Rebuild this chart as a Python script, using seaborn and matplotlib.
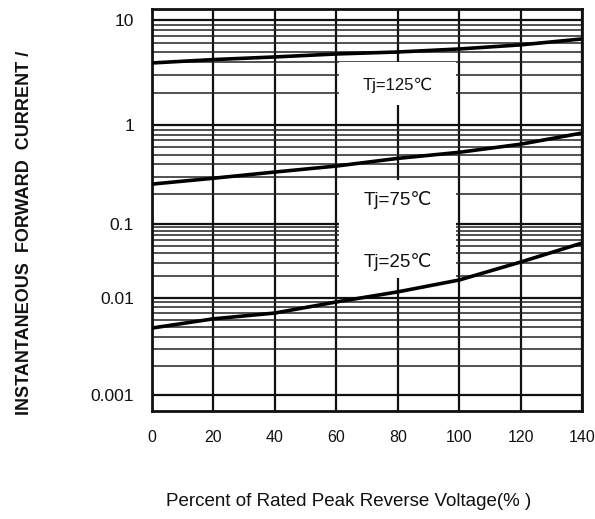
import numpy as np
import pandas as pd
import matplotlib
matplotlib.use("Agg")
import matplotlib.pyplot as plt
from matplotlib.patches import Rectangle
import seaborn as sns

# ---- data ----
voltage_pct = [0, 20, 40, 60, 80, 100, 120, 140]
i_125 = [3.9, 4.2, 4.45, 4.75, 4.96, 5.3, 5.8, 6.6]
i_75 = [0.253, 0.29, 0.335, 0.385, 0.46, 0.53, 0.64, 0.83]
i_25 = [0.0049, 0.0061, 0.0070, 0.0091, 0.0121, 0.0175, 0.0306, 0.0553]
series_labels = ["Tj=125℃", "Tj=75℃", "Tj=25℃"]
x_ticks = [0, 20, 40, 60, 80, 100, 120, 140]
y_ticks = [0.001, 0.01, 0.1, 1, 10]
y_tick_labels = ["0.001", "0.01", "0.1", "1", "10"]
x_label = "Percent of Rated Peak Reverse Voltage(% )"
y_label = "INSTANTANEOUS  FORWARD  CURRENT /"

df = pd.DataFrame({
    "v": voltage_pct * 3,
    "i": i_125 + i_75 + i_25,
    "s": [series_labels[0]] * 8 + [series_labels[1]] * 8 + [series_labels[2]] * 8,
})

sns.set_theme(style="white")
plt.rcParams["font.family"] = ["Liberation Sans", "DejaVu Sans"]

fig = plt.figure(figsize=(5.95, 5.19), dpi=100)
ax = fig.add_axes([152 / 595, 1 - 411 / 519, 430 / 595, 402 / 519])

# the scanned chart has uneven decades: piecewise log scale
k_log = np.array([-4.0, -3.0, -2.0, -1.0, 0.0, 1.0, 2.0])
k_pos = np.array([-492.0, -395.0, -298.0, -224.0, -125.0, -20.0, 85.0])

def fwd(y):
    y = np.clip(np.asarray(y, dtype=float), 1e-12, None)
    return np.interp(np.log10(y), k_log, k_pos)

def inv(p):
    return 10 ** np.interp(np.asarray(p, dtype=float), k_pos, k_log)

ax.set_yscale("function", functions=(fwd, inv))

sns.lineplot(data=df, x="v", y="i", hue="s", palette=["black"] * 3,
             linewidth=2.6, legend=False, ax=ax, zorder=5)

ymin, ymax = 10 ** -3.165, 10 ** 1.105
ax.set_xticks(x_ticks)
ax.set_yticks(y_ticks)
ax.set_yticklabels(y_tick_labels)
minor = [m * 10.0 ** d for d in range(-3, 2) for m in range(2, 10)]
minor = [v for v in minor if ymin < v < ymax]
ax.set_yticks(minor, minor=True)
ax.set_xlim(0, 140)
ax.set_ylim(ymin, ymax)
ax.set_xlabel("")
ax.set_ylabel("")
ax.tick_params(axis="both", which="both", length=0, colors="#111111")
ax.tick_params(axis="x", pad=14, labelsize=11.5)
ax.tick_params(axis="y", pad=13, labelsize=12.5)
ax.grid(True, which="major", axis="both", color="#111111", linewidth=1.6)
ax.grid(True, which="minor", axis="y", color="#222222", linewidth=1.1)
ax.set_axisbelow(True)
for s in ax.spines.values():
    s.set_color("#111111")
    s.set_linewidth(2.0)

# white label boxes between the 60% and 100% grid lines
boxes = [(1.55, 4.0), (0.055, 0.28), (0.0186, 0.055)]
for lo, hi in boxes:
    ax.add_patch(Rectangle((61, lo), 38, hi - lo, facecolor="white",
                           edgecolor="none", zorder=3))
ax.text(80, 2.4, series_labels[0], ha="center", va="center", fontsize=12, zorder=6,
        color="#111111")
ax.text(80, 0.175, series_labels[1], ha="center", va="center", fontsize=13.5, zorder=6,
        color="#111111")
ax.text(80, 0.031, series_labels[2], ha="center", va="center", fontsize=13.5, zorder=6,
        color="#111111")

fig.text(349 / 595, 1 - 501 / 519, x_label, ha="center", va="center", fontsize=13.5,
         color="#111111")
fig.text(25 / 595, 1 - 233 / 519, y_label, ha="center", va="center", rotation=90,
         fontsize=13, fontweight="bold", color="#111111")

fig.savefig("out.png", dpi=100)
